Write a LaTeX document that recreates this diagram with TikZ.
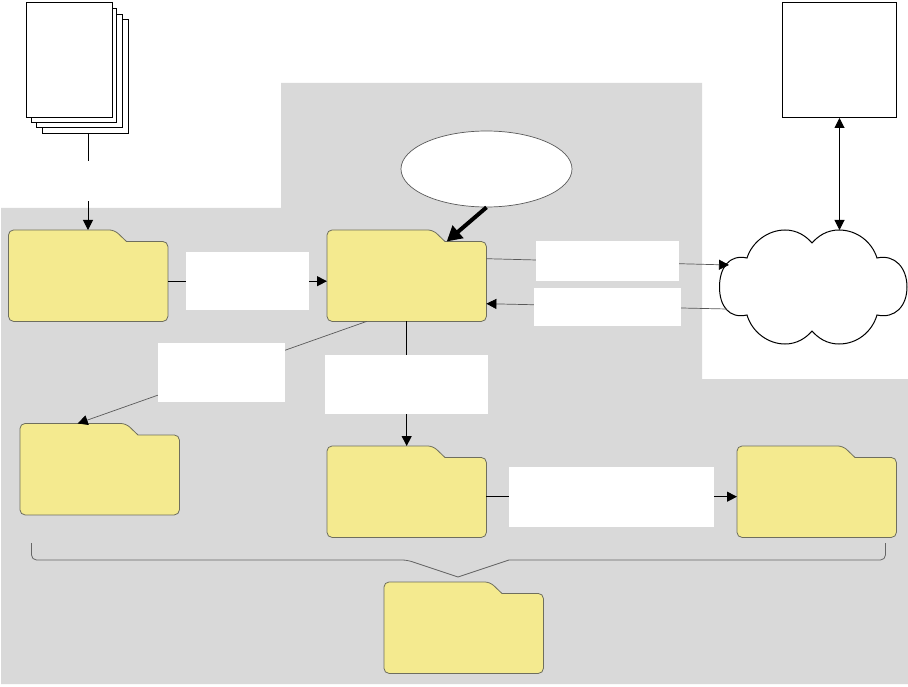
\documentclass[tikz,border=0pt]{standalone}
\usetikzlibrary{arrows.meta,shapes.geometric}
\definecolor{zone}{HTML}{D9D9D9}
\definecolor{folderfill}{HTML}{F4EA8F}
\definecolor{folderline}{HTML}{6E6E5E}
\tikzset{
  px/.style={x=1pt,y=-1pt},
  tip/.style={-{Triangle[length=10pt,width=10pt,black]}},
  link/.style={line width=1pt,black,tip},
  thinlink/.style={line width=0.7pt,black!65,tip},
  page/.style={draw=black,fill=white,line width=1pt},
  foldershape/.style={draw=folderline,fill=folderfill,line width=0.8pt,rounded corners=5pt},
  anchorbox/.style={inner sep=0pt,minimum width=159pt,minimum height=91pt,anchor=north west},
}
\newcommand{\folderat}[3]{%
  \node[anchorbox] (#1) at (#2,#3) {};
  \draw[foldershape] (#1.north west) -- ([xshift=106pt]#1.north west)
    [sharp corners] -- ([xshift=118pt,yshift=-11.5pt]#1.north west) [rounded corners=5pt]
    -- ([yshift=-11.5pt]#1.north east) -- (#1.south east) -- (#1.south west) -- cycle;
}
\newcommand{\blank}[5]{%
  \node[fill=white,inner sep=0pt,minimum width=#4pt,minimum height=#5pt,anchor=north west] (#1) at (#2,#3) {};
}
\begin{document}
\begin{tikzpicture}[px]
\useasboundingbox (0,0) rectangle (908,687);
% background zone
\fill[zone] (1,208) -- (281,208) -- (281,83) -- (702,83) -- (702,379) -- (908,379) -- (908,684) -- (1,684) -- cycle;

% document stack
\draw[page] (42.5,19.5) rectangle (128.5,133.5);
\draw[page] (36.5,14.5) rectangle (122.5,128);
\draw[page] (31.5,8.5) rectangle (116.5,122.5);
\node[page,inner sep=0pt,minimum width=86pt,minimum height=115pt,anchor=north west] (docs) at (25.5,2.5) {};
\coordinate (docsout) at (88,133.5);

% right document
\node[page,inner sep=0pt,minimum width=114pt,minimum height=115pt,anchor=north west] (doc) at (782,2) {};

% cloud
\draw[page] (747,258) .. controls (752,242) and (768,230) .. (785,230)
  .. controls (797,230) and (806,236) .. (812,243)
  .. controls (818,236) and (827,230) .. (839,230)
  .. controls (857,230) and (872,242) .. (877,258)
  .. controls (895,254) and (907,268) .. (907,287)
  .. controls (907,306) and (895,319) .. (877,315)
  .. controls (872,332) and (857,344) .. (839,344)
  .. controls (827,344) and (818,338) .. (812,331)
  .. controls (806,338) and (797,344) .. (785,344)
  .. controls (768,344) and (752,332) .. (747,315)
  .. controls (729,319) and (719.5,306) .. (719.5,287)
  .. controls (719.5,268) and (729,254) .. (747,258) -- cycle;
\coordinate (cloudtop) at (839,230);
\coordinate (cloudin) at (729,265);
\coordinate (cloudout) at (727,309);

% ellipse
\node[ellipse,draw=black!65,fill=white,line width=0.7pt,inner sep=0pt,minimum width=171pt,minimum height=76pt] (oval) at (486.5,169) {};

% folders
\folderat{f1}{8.5}{230}
\folderat{f2}{327}{230}
\folderat{f3}{20}{423.5}
\folderat{f4}{327}{446}
\folderat{f5}{737}{446}
\folderat{f6}{384}{582}

% connectors
\draw[link] (docsout) -- (f1.north -| docsout);
\draw[link] ([yshift=-5.5pt]f1.east) -- ([yshift=-5.5pt]f2.west);
\draw[line width=4pt,-{Triangle[length=15pt,width=16pt]}] (oval.south) -- ([xshift=40pt,yshift=-11.5pt]f2.north);
\draw[thinlink] ([yshift=17pt]f2.east) -- (cloudin);
\draw[thinlink] (cloudout) -- ([yshift=-28pt]f2.east);
\draw[thinlink] ([xshift=-40pt]f2.south) -- ([xshift=-22pt]f3.north);
\draw[link] (f2.south) -- (f4.north);
\draw[link] ([yshift=-5pt]f4.east) -- ([yshift=-5pt]f5.west);
\draw[line width=1pt,{Triangle[length=10pt,width=10pt]}-{Triangle[length=10pt,width=10pt]}] (doc.south) -- (doc.south |- cloudtop);

% label plates
\blank{l0}{30}{161}{116}{40}
\blank{l1}{186}{252}{123}{58}
\blank{l2}{536}{241}{143}{40}
\blank{l3}{534}{288}{147}{38}
\blank{l4}{158}{343}{127}{59}
\blank{l5}{325}{355}{163}{59}
\blank{l6}{509}{467}{205}{60}

% brace
\coordinate (bl) at (31.5,543);
\coordinate (br) at (885.5,543);
\coordinate (bm) at (458,577);
\draw[line width=0.8pt,black!60,rounded corners=5pt] (bl) -- (31.5,560) -- (407,560) [sharp corners] -- (bm) -- (509,560) [rounded corners=5pt] -- (885.5,560) -- (br);
\end{tikzpicture}
\end{document}
